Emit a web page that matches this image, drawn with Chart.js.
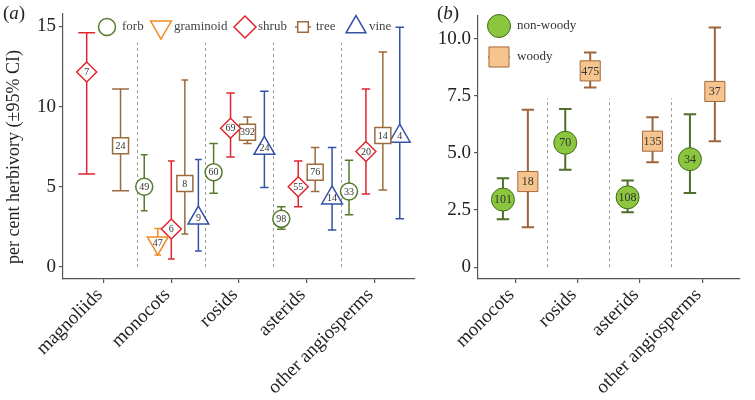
<!DOCTYPE html>
<html>
<head>
<meta charset="utf-8">
<script src="https://cdn.jsdelivr.net/npm/chart.js@4.4.0/dist/chart.umd.min.js"></script>
<style>
    html, body { margin: 0; padding: 0; background: #fff; }
    #wrap { position: relative; width: 755px; height: 400px; overflow: hidden; background: #fff; }
    #chartA { position: absolute; left: 0; top: 0; }
    #chartB { position: absolute; left: 430px; top: 0; }
</style>
</head>
<body>
<div id="wrap">
    <canvas id="chartA" width="430" height="400"></canvas>
    <canvas id="chartB" width="325" height="400"></canvas>
</div>
<script>
// ---- panel (a): growth forms within clades ----
const cladesA = ['magnoliids', 'monocots', 'rosids', 'asterids', 'other angiosperms'];
const yTicksA = [0, 5, 10, 15];

const forbMean = [null, 5.0, 5.9, 3.0, 4.7];
const forbLow  = [null, 3.5, 4.6, 2.35, 3.25];
const forbHigh = [null, 7.0, 7.7, 3.75, 6.65];
const forbN    = [null, 49, 60, 98, 33];

const graminoidMean = [null, 1.5, null, null, null];
const graminoidLow  = [null, 0.75, null, null, null];
const graminoidHigh = [null, 2.4, null, null, null];
const graminoidN    = [null, 47, null, null, null];

const shrubMean = [12.15, 2.37, 8.65, 5.0, 7.2];
const shrubLow  = [5.8, 0.5, 6.85, 3.75, 4.55];
const shrubHigh = [14.6, 6.6, 10.85, 6.6, 11.1];
const shrubN    = [7, 6, 69, 55, 20];

const treeMean = [7.55, 5.2, 8.4, 5.9, 8.2];
const treeLow  = [4.75, 2.05, 7.7, 4.7, 4.8];
const treeHigh = [11.1, 11.65, 9.35, 7.45, 13.4];
const treeN    = [24, 8, 392, 76, 14];

const vineMean = [null, 3.05, 7.4, 4.3, 8.15];
const vineLow  = [null, 1.0, 4.95, 2.3, 3.0];
const vineHigh = [null, 6.7, 10.95, 7.45, 14.95];
const vineN    = [null, 9, 24, 14, 4];

// ---- panel (b): woody vs non-woody ----
const cladesB = ['monocots', 'rosids', 'asterids', 'other angiosperms'];
const yTicksB = [0, 2.5, 5, 7.5, 10];
const yTickLabelsB = ['0', '2.5', '5.0', '7.5', '10.0'];

const nonWoodyMean = [2.96, 5.45, 3.06, 4.73];
const nonWoodyLow  = [2.1, 4.27, 2.4, 3.25];
const nonWoodyHigh = [3.9, 6.93, 3.8, 6.7];
const nonWoodyN    = [101, 70, 108, 34];

const woodyMean = [3.75, 8.6, 5.52, 7.7];
const woodyLow  = [1.75, 7.87, 4.6, 5.52];
const woodyHigh = [6.9, 9.4, 6.57, 10.5];
const woodyN    = [18, 475, 135, 37];

const SERIF = '"Liberation Serif", "DejaVu Serif", serif';
const AXIS = '#555';

const seriesA = [
    { name: 'forb', mean: forbMean, low: forbLow, high: forbHigh, n: forbN, style: 'circle', rot: 0, r: 8.5, color: '#557a2f', lx: 107, lr: 8.5 },
    { name: 'graminoid', mean: graminoidMean, low: graminoidLow, high: graminoidHigh, n: graminoidN, style: 'triangle', rot: 180, r: 12, color: '#f08a24', lx: 161, lr: 12 },
    { name: 'shrub', mean: shrubMean, low: shrubLow, high: shrubHigh, n: shrubN, style: 'rectRot', rot: 0, r: 10, color: '#e0262f', lx: 245, lr: 11 },
    { name: 'tree', mean: treeMean, low: treeLow, high: treeHigh, n: treeN, style: 'rect', rot: 0, r: 11.3, color: '#9c6b3c', lx: 303, lr: 7.5, stub: 8 },
    { name: 'vine', mean: vineMean, low: vineLow, high: vineHigh, n: vineN, style: 'triangle', rot: 0, r: 12, color: '#3553a6', lx: 356, lr: 11.5 }
];

const seriesB = [
    { name: 'non-woody', mean: nonWoodyMean, low: nonWoodyLow, high: nonWoodyHigh, n: nonWoodyN, style: 'circle', r: 11.5, fill: '#8cc63e', border: '#3f6b1c', color: '#4e6e2a', ly: 26 },
    { name: 'woody', mean: woodyMean, low: woodyLow, high: woodyHigh, n: woodyN, style: 'rect', r: 14.2, fill: '#f6c58f', border: '#a5683a', color: '#a0643a', ly: 57, stub: 11 }
];

// position_dodge: spread the series present in a clade over `width`
function dodged(series, si, ci, width, capFrac) {
    const present = series.filter(s => s.mean[ci] !== null);
    const n = present.length;
    const k = present.indexOf(series[si]);
    return { x: ci + 1 + (k - (n - 1) / 2) * (width / n), cap: capFrac * width / n / 2 };
}

function marker(ctx, style, rot, r, x, y, fill, stroke, lw) {
    ctx.save();
    ctx.fillStyle = fill;
    ctx.strokeStyle = stroke;
    ctx.lineWidth = lw;
    Chart.helpers.drawPoint(ctx, { pointStyle: style, rotation: rot, radius: r, borderWidth: lw }, x, y);
    ctx.restore();
}

// error bars + dashed separators behind the points, sample sizes on top
const errorBars = {
    id: 'errorBars',
    beforeDatasetsDraw(chart, args, opts) {
        const { ctx, scales: { x, y } } = chart;
        ctx.save();
        ctx.strokeStyle = '#9a9a9a';
        ctx.lineWidth = 1;
        ctx.setLineDash([3, 3]);
        for (let i = 1; i < opts.count; i++) {
            const px = Math.round(x.getPixelForValue(i + 0.5)) + 0.5;
            ctx.beginPath();
            ctx.moveTo(px, y.getPixelForValue(0));
            ctx.lineTo(px, y.getPixelForValue(opts.sepTop));
            ctx.stroke();
        }
        ctx.setLineDash([]);
        ctx.lineWidth = opts.lineWidth;
        chart.data.datasets.forEach(ds => {
            ctx.strokeStyle = ds.barColor;
            ds.data.forEach(d => {
                const px = x.getPixelForValue(d.x);
                const x0 = x.getPixelForValue(d.x - d.cap);
                const x1 = x.getPixelForValue(d.x + d.cap);
                const yl = y.getPixelForValue(d.lo);
                const yh = y.getPixelForValue(d.hi);
                ctx.beginPath();
                ctx.moveTo(px, yl); ctx.lineTo(px, yh);
                ctx.moveTo(x0, yl); ctx.lineTo(x1, yl);
                ctx.moveTo(x0, yh); ctx.lineTo(x1, yh);
                ctx.stroke();
            });
        });
        ctx.restore();
    },
    afterDatasetsDraw(chart, args, opts) {
        const { ctx, scales: { x, y } } = chart;
        ctx.save();
        ctx.fillStyle = '#333';
        ctx.font = opts.labelSize + 'px ' + SERIF;
        ctx.textAlign = 'center';
        ctx.textBaseline = 'middle';
        chart.data.datasets.forEach(ds => {
            ds.data.forEach(d => {
                ctx.fillText(String(d.n), x.getPixelForValue(d.x), y.getPixelForValue(d.y) + 0.5);
            });
        });
        ctx.restore();
    }
};

function panelLabel(ctx, letter, x, y) {
    ctx.save();
    ctx.fillStyle = '#222';
    ctx.textBaseline = 'alphabetic';
    ctx.font = '19px ' + SERIF;
    ctx.fillText('(', x, y);
    let w = ctx.measureText('(').width;
    ctx.font = 'italic 19px ' + SERIF;
    ctx.fillText(letter, x + w, y);
    w += ctx.measureText(letter).width;
    ctx.font = '19px ' + SERIF;
    ctx.fillText(')', x + w, y);
    ctx.restore();
}

const decorA = {
    id: 'decorA',
    afterDraw(chart) {
        const ctx = chart.ctx;
        panelLabel(ctx, 'a', 3, 19);
        // y title
        ctx.save();
        ctx.fillStyle = '#222';
        ctx.font = '18px ' + SERIF;
        ctx.textAlign = 'center';
        ctx.textBaseline = 'middle';
        ctx.translate(14, 157);
        ctx.rotate(-Math.PI / 2);
        ctx.fillText('per cent herbivory (±95% CI)', 0, 0);
        ctx.restore();
        // legend
        const ly = 27;
        seriesA.forEach(s => {
            if (s.stub) {
                ctx.save();
                ctx.strokeStyle = s.color;
                ctx.lineWidth = 1.5;
                ctx.beginPath();
                ctx.moveTo(s.lx - s.stub, ly); ctx.lineTo(s.lx + s.stub, ly);
                ctx.stroke();
                ctx.restore();
            }
            marker(ctx, s.style, s.rot, s.lr, s.lx, ly, '#fff', s.color, 1.5);
            ctx.save();
            ctx.fillStyle = '#444';
            ctx.font = '13px ' + SERIF;
            ctx.textBaseline = 'middle';
            ctx.fillText(s.name, s.lx + (s.name === 'forb' ? 15 : 13), ly);
            ctx.restore();
        });
    }
};

const decorB = {
    id: 'decorB',
    afterDraw(chart) {
        const ctx = chart.ctx;
        panelLabel(ctx, 'b', 7, 19);
        const lx = 69;
        seriesB.forEach(s => {
            if (s.stub) {
                ctx.save();
                ctx.strokeStyle = s.color;
                ctx.lineWidth = 1.5;
                ctx.beginPath();
                ctx.moveTo(lx - s.stub, s.ly); ctx.lineTo(lx + s.stub, s.ly);
                ctx.stroke();
                ctx.restore();
            }
            marker(ctx, s.style, 0, s.r, lx, s.ly, s.fill, s.border, 1);
            ctx.save();
            ctx.fillStyle = '#333';
            ctx.font = '13px ' + SERIF;
            ctx.textBaseline = 'middle';
            ctx.fillText(s.name, lx + 18, s.ly);
            ctx.restore();
        });
    }
};

function axisCommon() {
    return {
        grid: { display: true, drawOnChartArea: false, drawTicks: true, tickLength: 4, color: AXIS, lineWidth: 1.2 },
        border: { display: true, color: AXIS, width: 1.2 }
    };
}

// ---- chart (a) ----
const datasetsA = seriesA.map((s, si) => ({
    label: s.name,
    data: s.mean.map((m, ci) => {
        if (m === null) return null;
        const p = dodged(seriesA, si, ci, 1.0, 0.5);
        return { x: p.x, y: m, lo: s.low[ci], hi: s.high[ci], n: s.n[ci], cap: p.cap };
    }).filter(d => d !== null),
    pointStyle: s.style,
    pointRotation: s.rot,
    pointRadius: s.r,
    pointBorderWidth: 1.5,
    pointBorderColor: s.color,
    pointBackgroundColor: '#fff',
    barColor: s.color
}));

new Chart(document.getElementById('chartA'), {
    type: 'scatter',
    data: { datasets: datasetsA },
    plugins: [errorBars, decorA],
    options: {
        responsive: false,
        animation: false,
        layout: { padding: { top: 13, right: 15, left: 0, bottom: 0 } },
        plugins: {
            legend: { display: false },
            tooltip: { enabled: false },
            errorBars: { count: cladesA.length, sepTop: 14, lineWidth: 1.5, labelSize: 10 }
        },
        scales: {
            x: Object.assign(axisCommon(), {
                type: 'linear', min: 0.4, max: 5.6,
                afterBuildTicks: s => { s.ticks = cladesA.map((c, i) => ({ value: i + 1 })); },
                ticks: {
                    autoSkip: false, minRotation: 45, maxRotation: 45, padding: 1, labelOffset: -4,
                    color: '#222', font: { family: SERIF, size: 19 },
                    callback: v => cladesA[v - 1]
                },
                afterFit: s => { s.height = 121; s.paddingLeft = 0; s.paddingRight = 0; }
            }),
            y: Object.assign(axisCommon(), {
                min: -0.75, max: 15.8,
                afterBuildTicks: s => { s.ticks = yTicksA.map(v => ({ value: v })); },
                ticks: { padding: 3, color: '#222', font: { family: SERIF, size: 19 } },
                afterFit: s => { s.width = 63; s.paddingTop = 0; s.paddingBottom = 0; }
            })
        }
    }
});

// ---- chart (b) ----
const datasetsB = seriesB.map((s, si) => ({
    label: s.name,
    data: s.mean.map((m, ci) => {
        const p = dodged(seriesB, si, ci, 0.8, 0.5);
        return { x: p.x, y: m, lo: s.low[ci], hi: s.high[ci], n: s.n[ci], cap: p.cap };
    }),
    pointStyle: s.style,
    pointRadius: s.r,
    pointBorderWidth: 1,
    pointBorderColor: s.border,
    pointBackgroundColor: s.fill,
    barColor: s.color
}));

new Chart(document.getElementById('chartB'), {
    type: 'scatter',
    data: { datasets: datasetsB },
    plugins: [errorBars, decorB],
    options: {
        responsive: false,
        animation: false,
        layout: { padding: { top: 13, right: 0, left: 0, bottom: 0 } },
        plugins: {
            legend: { display: false },
            tooltip: { enabled: false },
            errorBars: { count: cladesB.length, sepTop: 7.4, lineWidth: 2, labelSize: 12 }
        },
        scales: {
            x: Object.assign(axisCommon(), {
                type: 'linear', min: 0.4, max: 4.6,
                afterBuildTicks: s => { s.ticks = cladesB.map((c, i) => ({ value: i + 1 })); },
                ticks: {
                    autoSkip: false, minRotation: 45, maxRotation: 45, padding: 1, labelOffset: -4,
                    color: '#222', font: { family: SERIF, size: 19 },
                    callback: v => cladesB[v - 1]
                },
                afterFit: s => { s.height = 121; s.paddingLeft = 0; s.paddingRight = 0; }
            }),
            y: Object.assign(axisCommon(), {
                min: -0.52, max: 11.04,
                afterBuildTicks: s => { s.ticks = yTicksB.map(v => ({ value: v })); },
                ticks: {
                    padding: 3, color: '#222', font: { family: SERIF, size: 19 },
                    callback: v => yTickLabelsB[yTicksB.indexOf(v)]
                },
                afterFit: s => { s.width = 48; s.paddingTop = 0; s.paddingBottom = 0; }
            })
        }
    }
});
</script>
</body>
</html>
